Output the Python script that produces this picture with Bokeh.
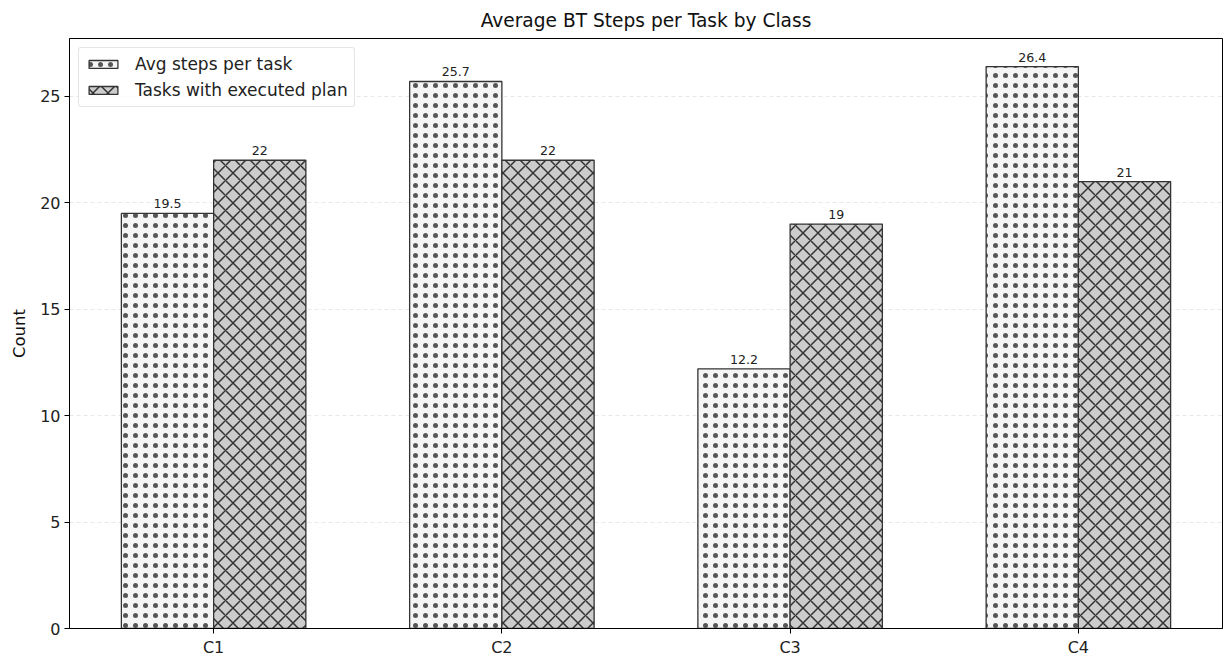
from bokeh.plotting import figure
from bokeh.models import ColumnDataSource, FactorRange, Range1d, FixedTicker, Legend, LegendItem
from bokeh.core.properties import value
from bokeh.transform import dodge
from bokeh.embed import file_html
from bokeh.resources import INLINE

classes = ["C1", "C2", "C3", "C4"]
avg_steps = [19.5, 25.7, 12.2, 26.4]
tasks_executed = [22, 22, 19, 21]
avg_labels = ["19.5", "25.7", "12.2", "26.4"]
task_labels = ["22", "22", "19", "21"]

src = ColumnDataSource(dict(cls=classes, avg=avg_steps, tasks=tasks_executed,
                            avg_lbl=avg_labels, task_lbl=task_labels))

FONT = "DejaVu Sans"
EDGE = "#333333"

p = figure(width=1229, height=659, x_range=FactorRange(*classes),
           y_range=Range1d(0, max(avg_steps + tasks_executed) * 1.05),
           output_backend="svg", toolbar_location=None,
           min_border_left=69, min_border_right=7, min_border_top=37, min_border_bottom=30)

p.title.text = "Average BT Steps per Task by Class"
p.title.align = "center"
p.title.text_font = FONT
p.title.text_font_size = "18.6px"
p.title.text_font_style = "normal"
p.title.text_color = "#111111"
p.title.standoff = 15

r1 = p.vbar(x=dodge("cls", -0.16, range=p.x_range), top="avg", width=0.32, source=src,
            fill_color="#f5f5f5", line_color=EDGE, line_width=1.3,
            hatch_pattern="dot", hatch_color="#222222", hatch_scale=10, hatch_weight=0.5,
            hatch_alpha=0.75)
r2 = p.vbar(x=dodge("cls", 0.16, range=p.x_range), top="tasks", width=0.32, source=src,
            fill_color="#cccccc", line_color=EDGE, line_width=1.3,
            hatch_pattern="diagonal_cross", hatch_color="#333333", hatch_scale=15, hatch_weight=1.5)

p.text(x=dodge("cls", -0.16, range=p.x_range), y="avg", text="avg_lbl", source=src,
       text_align="center", text_baseline="bottom", y_offset=-5,
       text_font_size="12.6px", text_font=value(FONT), text_color="#222222")
p.text(x=dodge("cls", 0.16, range=p.x_range), y="tasks", text="task_lbl", source=src,
       text_align="center", text_baseline="bottom", y_offset=-5,
       text_font_size="12.6px", text_font=value(FONT), text_color="#222222")

legend = Legend(items=[LegendItem(label="Avg steps per task", renderers=[r1]),
                       LegendItem(label="Tasks with executed plan", renderers=[r2])],
                location="top_left")
legend.label_text_font = FONT
legend.label_text_font_size = "17px"
legend.label_text_color = "#222222"
legend.glyph_width = 36
legend.glyph_height = 10
legend.spacing = 6
legend.padding = 6
legend.margin = 9
legend.label_standoff = 14
legend.label_height = 20
legend.border_line_color = "#cccccc"
legend.border_line_width = 1
legend.border_radius = 3
legend.background_fill_alpha = 0.8
p.add_layout(legend)

p.yaxis.ticker = FixedTicker(ticks=[0, 5, 10, 15, 20, 25])
p.yaxis.axis_label = "Count"
p.yaxis.axis_label_text_font = FONT
p.yaxis.axis_label_text_font_size = "16.5px"
p.yaxis.axis_label_text_font_style = "normal"
p.yaxis.axis_label_text_color = "#111111"
p.yaxis.axis_label_standoff = 8

for ax in (p.xaxis, p.yaxis):
    ax.major_label_text_font = FONT
    ax.major_label_text_font_size = "16px"
    ax.major_label_text_color = "#222222"
    ax.major_label_standoff = 4
    ax.major_tick_in = 0
    ax.major_tick_out = 5
    ax.minor_tick_in = 0
    ax.minor_tick_out = 0
    ax.axis_line_color = "black"
    ax.major_tick_line_color = "black"

p.xgrid.grid_line_color = None
p.ygrid.grid_line_color = "#e2e2e2"
p.ygrid.grid_line_dash = "4 3"
p.ygrid.grid_line_width = 0.8
p.outline_line_color = "black"
p.outline_line_width = 1
p.outline_line_alpha = 1

open("out.html", "w").write(file_html(p, INLINE))
